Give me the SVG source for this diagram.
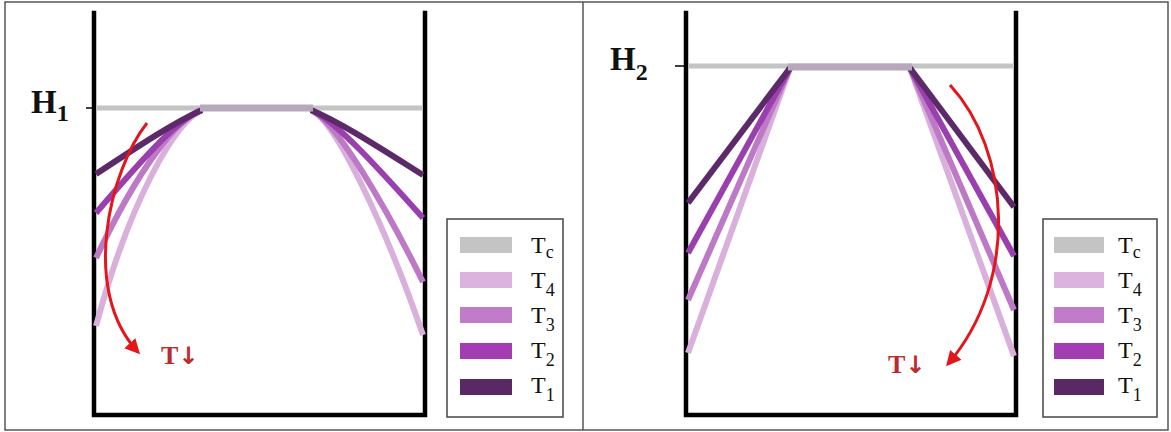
<svg xmlns="http://www.w3.org/2000/svg" width="1171" height="432" viewBox="0 0 1171 432">
<style>
.wall{fill:none;stroke:#000;stroke-width:4.5;stroke-linecap:square}
.level{stroke:#c4c4c4;stroke-width:5}
.plat{stroke:#b7a9bb;stroke-width:7}
.tick{stroke:#000;stroke-width:1.5}
.c{fill:none;stroke-width:6;stroke-linecap:butt}
.t1{stroke:#5c2a68}
.t2{stroke:#9a3fae}
.t3{stroke:#bd78c6}
.t4{stroke:#d9b0dc}
.arr{fill:none;stroke:#e3161c;stroke-width:3}
.hl{font-family:"Liberation Serif","DejaVu Serif",serif;font-weight:bold;fill:#111}
.lg{font-family:"Liberation Serif","DejaVu Serif",serif;fill:#111;font-size:24px}
.td{font-family:"Liberation Serif","DejaVu Serif",serif;font-weight:bold;fill:#bd2a2e;font-size:26px}
.dn{font-family:"DejaVu Sans",sans-serif;font-weight:bold}
.box{fill:#fff;stroke:#444;stroke-width:1.5}
</style>
<defs>
<marker id="ah" viewBox="0 0 10 10" refX="8" refY="5" markerWidth="5" markerHeight="5" orient="auto" markerUnits="strokeWidth">
<path d="M0,0 L10,5 L0,10 Z" fill="#e3161c"/>
</marker>
</defs>
<rect x="5" y="2" width="1163" height="428" fill="#fff" stroke="#555" stroke-width="1.5"/>
<line x1="583" y1="2" x2="583" y2="430" stroke="#555" stroke-width="1.5"/>

<g id="panel-left">
<g id="container-1">
<polyline class="wall" points="94,13 94,415 425,415 425,13"/>
<line class="level" x1="96" y1="108" x2="423" y2="108"/>
<line class="tick" x1="86" y1="108" x2="93" y2="108"/>
<text class="hl" x="31" y="113" font-size="33">H<tspan font-size="24" dy="8">1</tspan></text>
</g>
<g id="curves-1">
<path class="c t4" d="M202,110 C176,120 130,200 96,326"/>
<path class="c t3" d="M202,110 C178,118 140,165 96,258"/>
<path class="c t2" d="M202,110 C180,118 150,150 96,213"/>
<path class="c t1" d="M202,110 C175,122 140,145 96,174"/>
<path class="c t4" d="M311,110 C335,120 385,225 423,335"/>
<path class="c t3" d="M311,110 C335,120 385,205 423,282"/>
<path class="c t2" d="M311,110 C335,120 380,170 423,218"/>
<path class="c t1" d="M311,110 C340,122 380,148 423,175"/>
<line class="plat" x1="200" y1="108" x2="313" y2="108"/>
</g>
<g id="arrow-1">
<path class="arr" d="M147,123 C110,170 80,290 138,352" marker-end="url(#ah)"/>
<text class="td" x="161" y="364">T<tspan class="dn" font-size="24">↓</tspan></text>
</g>
<g id="legend-1">
<rect class="box" x="447" y="219" width="116" height="198"/>
<rect x="460" y="237" width="52" height="16" fill="#c4c4c4"/>
<rect x="460" y="272" width="52" height="16" fill="#dcb3df"/>
<rect x="460" y="307" width="52" height="16" fill="#c07bc9"/>
<rect x="460" y="343" width="52" height="16" fill="#a33db4"/>
<rect x="460" y="379" width="52" height="16" fill="#5a2865"/>
<text class="lg" x="531" y="253">T<tspan font-size="18" dy="5">c</tspan></text>
<text class="lg" x="531" y="288">T<tspan font-size="18" dy="8">4</tspan></text>
<text class="lg" x="531" y="323">T<tspan font-size="18" dy="8">3</tspan></text>
<text class="lg" x="531" y="358">T<tspan font-size="18" dy="8">2</tspan></text>
<text class="lg" x="531" y="393">T<tspan font-size="18" dy="8">1</tspan></text>
</g>
</g>

<g id="panel-right">
<g id="container-2">
<polyline class="wall" points="686,13 686,415 1016,415 1016,13"/>
<line class="level" x1="688" y1="66" x2="1014" y2="66"/>
<line class="tick" x1="675" y1="66" x2="684" y2="66"/>
<text class="hl" x="610" y="70" font-size="33">H<tspan font-size="24" dy="10">2</tspan></text>
</g>
<g id="curves-2">
<path class="c t4" d="M790,68 L688,353"/>
<path class="c t3" d="M790,68 L688,300"/>
<path class="c t2" d="M790,68 L688,253"/>
<path class="c t1" d="M790,68 L688,203"/>
<path class="c t4" d="M910,68 L1014,356"/>
<path class="c t3" d="M910,68 L1014,310"/>
<path class="c t2" d="M910,68 L1014,256"/>
<path class="c t1" d="M910,68 L1014,207"/>
<line class="plat" x1="788" y1="67" x2="912" y2="67"/>
</g>
<g id="arrow-2">
<path class="arr" d="M950,85 C1010,150 1020,280 948,364" marker-end="url(#ah)"/>
<text class="td" x="888" y="373">T<tspan class="dn" font-size="24">↓</tspan></text>
</g>
<g id="legend-2">
<rect class="box" x="1043" y="219" width="114" height="198"/>
<rect x="1054" y="237" width="50" height="16" fill="#c4c4c4"/>
<rect x="1054" y="272" width="50" height="16" fill="#dcb3df"/>
<rect x="1054" y="307" width="50" height="16" fill="#c07bc9"/>
<rect x="1054" y="343" width="50" height="16" fill="#a33db4"/>
<rect x="1054" y="379" width="50" height="16" fill="#5a2865"/>
<text class="lg" x="1118" y="253">T<tspan font-size="18" dy="5">c</tspan></text>
<text class="lg" x="1118" y="288">T<tspan font-size="18" dy="8">4</tspan></text>
<text class="lg" x="1118" y="323">T<tspan font-size="18" dy="8">3</tspan></text>
<text class="lg" x="1118" y="358">T<tspan font-size="18" dy="8">2</tspan></text>
<text class="lg" x="1118" y="393">T<tspan font-size="18" dy="8">1</tspan></text>
</g>
</g>
</svg>
